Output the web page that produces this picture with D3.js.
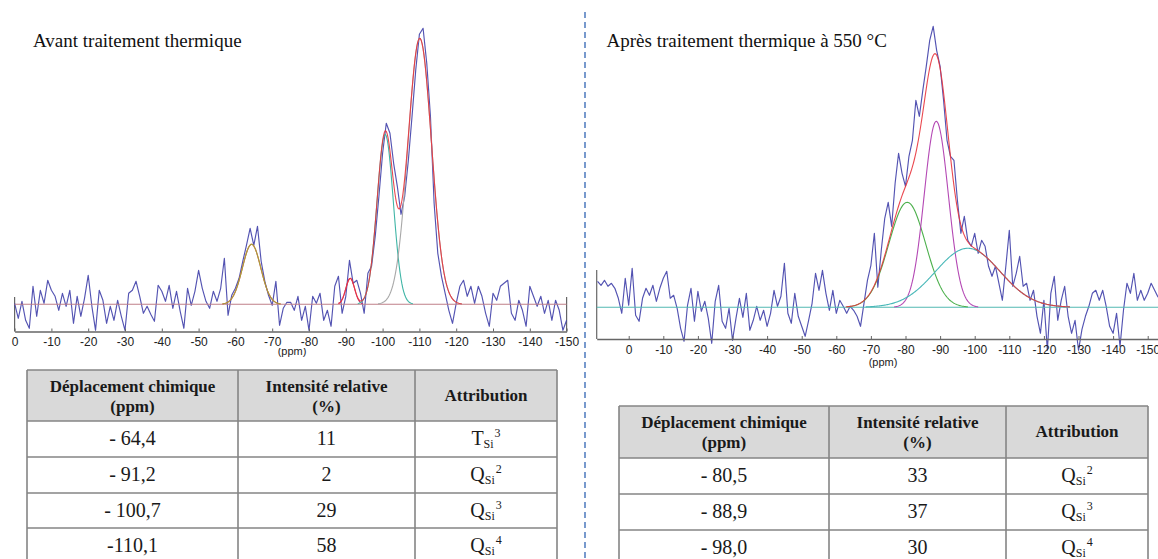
<!DOCTYPE html>
<html>
<head>
<meta charset="utf-8">
<script src="https://cdn.jsdelivr.net/npm/d3@7/dist/d3.min.js"></script>
<style>
  body { margin: 0; background: #fff; }
  svg { display: block; }
</style>
</head>
<body>
<svg id="fig" width="1158" height="559"></svg>
<script>
// ---- 29Si MAS NMR spectra: sample grid (ppm) and measured intensity (a.u.) ----
const shiftBefore = d3.range(0, -151, -1);
const intensityBefore = [
  1, -14, 3, -16, -24, 18, -12, 14, 1, 24,
  14, 8, -6, 11, -2, 14, -19, 8, -12, 6,
  29, -2, -26, 14, 4, -19, -2, -16, 4, -12,
  -26, 11, 14, 23, 8, -9, -2, -10, -17, 19,
  13, 3, 19, -4, 13, -7, -24, 16, -1, 13,
  34, 16, 3, -4, 13, 3, 16, 46, -11, 9,
  16, 26, 43, 59, 76, 59, 78, 43, 23, 9,
  -1, 23, -21, -4, 2, 2, -6, 8, -16, -2,
  -26, 8, 1, 11, -16, -6, -22, 18, 28, -9,
  8, 44, 21, 24, 11, -9, 31, 38, 68, 108,
  151, 181, 171, 141, 118, 90, 108, 144, 188, 234,
  270, 276, 241, 188, 101, 51, 28, 11, -6, -19,
  1, 18, 24, 8, 18, 1, 18, 8, -9, -22,
  11, 4, 18, 21, 24, -9, -16, 4, -6, -22,
  18, 8, -2, 8, -9, 4, -16, 4, -6, -26,
  -16
];

const shiftAfter = d3.range(9, -154, -1);
const intensityAfter = [
  26, 22, 27, 21, 24, 19, 9, -6, 29,
  2, 39, -8, -14, 9, 19, 12, 22, 6, 19,
  29, 36, 9, 12, -1, -21, -34, 2, 19, -14,
  16, -4, 6, -11, -36, 6, 22, -14, -21, -1,
  -33, -11, 9, -10, 14, -23, -13, 1, -13, -3,
  -19, -6, 17, 1, 11, 44, -6, -16, 14, -9,
  -19, -29, -13, 4, 34, 17, 37, 14, -3, 17,
  -6, 7, 1, -6, 1, -3, -9, -19, 4, 27,
  42, 74, 20, 57, 89, 105, 81, 124, 154, 134,
  121, 151, 167, 207, 191, 217, 241, 267, 281, 257,
  241, 207, 167, 151, 147, 107, 74, 91, 67, 61,
  74, 54, 67, 61, 41, 31, 41, 24, 7, 41,
  77, 21, 34, 51, 21, 24, 7, 17, -9, -26,
  7, -43, 14, 31, -13, 7, 21, -9, -26, -13,
  -43, -22, -9, 1, 14, 17, 7, 17, 1, -19,
  -26, -6, -39, -3, 24, 14, 34, 7, 17, 7,
  14, 24, 17, 10
];

// ---- Deconvolution results ----
const shiftLabelsBefore = ["- 64,4", "- 91,2", "- 100,7", "-110,1"];
const relIntBefore = [11, 2, 29, 58];
const speciesBefore = ["T", "Q", "Q", "Q"];
const nBefore = [3, 2, 3, 4];
const heightBefore = [60, 26, 170, 266];
const fwhmBefore = [5.9, 2.8, 5.2, 7.5];
const colorsBefore = ["#a3a23a", "#d0306e", "#3fb5a6", "#a8a8a8"];

const shiftLabelsAfter = ["- 80,5", "- 88,9", "- 98,0"];
const relIntAfter = [33, 37, 30];
const speciesAfter = ["Q", "Q", "Q"];
const nAfter = [2, 3, 4];
const heightAfter = [105, 186, 59];
const fwhmAfter = [12.5, 8.2, 22];
const colorsAfter = ["#4cb04c", "#b448b4", "#48b8b8"];

const tickValues = d3.range(0, -151, -10);

const svg = d3.select("#fig");
const parseShift = s => +s.replace(/\s/g, "").replace(",", ".");

function gauss(x, c, h, fwhm) {
  const s = fwhm / 2.3548;
  return h * Math.exp(-((x - c) * (x - c)) / (2 * s * s));
}

function spectrum(cfg) {
  const g = svg.append("g");
  const x = d3.scaleLinear().domain(cfg.xDomain).range(cfg.xRange);
  const y = d3.scaleLinear().domain([0, 100]).range([cfg.y0, cfg.y0 - 100]);

  // frame pieces
  g.append("line")
    .attr("x1", x(cfg.xDomain[0])).attr("x2", x(cfg.xDomain[0]))
    .attr("y1", cfg.frameTop).attr("y2", cfg.axisY)
    .attr("stroke", "#666").attr("stroke-width", 1.2);
  if (cfg.rightFrame) {
    g.append("line")
      .attr("x1", x(cfg.xDomain[1])).attr("x2", x(cfg.xDomain[1]))
      .attr("y1", cfg.frameTop).attr("y2", cfg.axisY)
      .attr("stroke", "#666").attr("stroke-width", 1.2);
  }

  // experimental trace
  const pts = cfg.shift.map((d, i) => [d, cfg.intensity[i]]);
  g.append("path")
    .attr("d", d3.line().x(d => x(d[0])).y(d => y(d[1]))(pts))
    .attr("fill", "none").attr("stroke", "#4040aa").attr("stroke-width", 1.15)
    .attr("stroke-opacity", 0.9).attr("stroke-linejoin", "round");

  // baseline
  g.append("line")
    .attr("x1", x(cfg.xDomain[0])).attr("x2", x(cfg.xDomain[1]))
    .attr("y1", y(0)).attr("y2", y(0))
    .attr("stroke", cfg.baseColor).attr("stroke-width", 1.1);

  // fitted Gaussian components and their sum
  const centers = cfg.labels.map(parseShift);
  const fine = d3.range(cfg.xDomain[0], cfg.xDomain[1] - 0.01, -0.25);
  const comp = centers.map((c, k) =>
    fine.map(p => [p, gauss(p, c, cfg.heights[k], cfg.fwhm[k])]));
  const total = fine.map((p, i) => [p, d3.sum(comp, cc => cc[i][1])]);
  const line = d3.line().defined(d => d[1] > 0.4).x(d => x(d[0])).y(d => y(d[1]));

  const drawComp = k => g.append("path").attr("d", line(comp[k]))
    .attr("fill", "none").attr("stroke", cfg.colors[k]).attr("stroke-width", 1.1);
  comp.forEach((cc, k) => { if (!cfg.onTop.includes(k)) drawComp(k); });
  g.append("path").attr("d", line(total))
    .attr("fill", "none").attr("stroke", "#e8343c").attr("stroke-width", 1.1)
    .attr("stroke-opacity", 0.9);
  cfg.onTop.forEach(drawComp);

  // shift axis
  const axis = d3.axisBottom(x)
    .tickValues(tickValues)
    .tickFormat(d => d === 0 ? "0" : "-" + Math.abs(d))
    .tickSizeInner(-3).tickSizeOuter(0).tickPadding(6);
  const ag = g.append("g").attr("transform", `translate(0,${cfg.axisY})`).call(axis);
  ag.select(".domain").attr("stroke", "#666").attr("stroke-width", 1.3);
  ag.selectAll(".tick line").attr("stroke", "#666");
  ag.selectAll("text")
    .attr("font-family", "Liberation Sans, Arial, sans-serif")
    .attr("font-size", 12).attr("fill", "#222");

  // unit label, partly tucked under the tick labels
  const cid = "clip" + cfg.id;
  svg.append("clipPath").attr("id", cid).append("rect")
    .attr("x", cfg.unitX - 30).attr("y", cfg.unitClip).attr("width", 60).attr("height", 20);
  g.append("text")
    .attr("clip-path", `url(#${cid})`)
    .attr("x", cfg.unitX).attr("y", cfg.unitY)
    .attr("text-anchor", "middle")
    .attr("font-family", "Liberation Sans, Arial, sans-serif")
    .attr("font-size", 11).attr("fill", "#222")
    .text("(ppm)");

  // panel title
  g.append("text")
    .attr("x", cfg.titleX).attr("y", 47)
    .attr("font-family", "Liberation Serif, Times New Roman, serif")
    .attr("font-size", 19).attr("fill", "#111")
    .text(cfg.title);
}

spectrum({
  id: "A", title: "Avant traitement thermique", titleX: 33,
  shift: shiftBefore, intensity: intensityBefore,
  labels: shiftLabelsBefore, heights: heightBefore, fwhm: fwhmBefore, colors: colorsBefore,
  onTop: [0],
  xDomain: [0, -150], xRange: [14.6, 566.6],
  y0: 304.3, axisY: 331.5, frameTop: 297, rightFrame: true,
  baseColor: "#bf7f88",
  unitX: 292, unitY: 355, unitClip: 348
});

spectrum({
  id: "B", title: "Après traitement thermique à 550 °C", titleX: 606.5,
  shift: shiftAfter, intensity: intensityAfter,
  labels: shiftLabelsAfter, heights: heightAfter, fwhm: fwhmAfter, colors: colorsAfter,
  onTop: [],
  xDomain: [9.25, -153], xRange: [596.7, 596.7 + 162.25 * 3.46],
  y0: 307.3, axisY: 339, frameTop: 270, rightFrame: false,
  baseColor: "#52b8b2",
  unitX: 883, unitY: 366, unitClip: 358
});

// dashed separator between the two panels
svg.append("line")
  .attr("x1", 585).attr("x2", 585).attr("y1", 12).attr("y2", 559)
  .attr("stroke", "#3f6fb8").attr("stroke-width", 1.4)
  .attr("stroke-dasharray", "6,4");

// ---- result tables ----
function table(cfg) {
  const g = svg.append("g");
  const cols = cfg.cols, rows = cfg.rows;
  const serif = "Liberation Serif, Times New Roman, serif";
  g.append("rect")
    .attr("x", cols[0]).attr("y", rows[0])
    .attr("width", cols[cols.length - 1] - cols[0]).attr("height", rows[1] - rows[0])
    .attr("fill", "#d9d9d9");
  // grid lines
  rows.forEach(r => g.append("line")
    .attr("x1", cols[0]).attr("x2", cols[cols.length - 1]).attr("y1", r).attr("y2", r)
    .attr("stroke", "#858585").attr("stroke-width", 1.6));
  cols.forEach(c => g.append("line")
    .attr("x1", c).attr("x2", c).attr("y1", rows[0]).attr("y2", 562)
    .attr("stroke", "#858585").attr("stroke-width", 1.6));

  const cx = d3.range(3).map(i => (cols[i] + cols[i + 1]) / 2);
  const hMid = (rows[0] + rows[1]) / 2;
  const head = [["Déplacement chimique", "(ppm)"], ["Intensité relative", "(%)"], ["Attribution"]];
  head.forEach((lines, i) => {
    lines.forEach((t, j) => {
      const yy = lines.length === 1 ? hMid + 5 : hMid - 4 + j * 20;
      g.append("text").attr("x", cx[i]).attr("y", yy)
        .attr("text-anchor", "middle")
        .attr("font-family", serif).attr("font-weight", "bold")
        .attr("font-size", 17).attr("fill", "#1a1a1a").text(t);
    });
  });

  cfg.labels.forEach((lab, r) => {
    const top = rows[r + 1];
    const yy = top + 24;
    g.append("text").attr("x", cx[0]).attr("y", yy).attr("text-anchor", "middle")
      .attr("font-family", serif).attr("font-size", 20).attr("fill", "#1a1a1a").text(lab);
    g.append("text").attr("x", cx[1]).attr("y", yy).attr("text-anchor", "middle")
      .attr("font-family", serif).attr("font-size", 20).attr("fill", "#1a1a1a").text(cfg.rel[r]);
    const t = g.append("text").attr("x", cx[2]).attr("y", yy).attr("text-anchor", "middle")
      .attr("font-family", serif).attr("font-size", 20).attr("fill", "#1a1a1a");
    t.append("tspan").text(cfg.species[r]);
    t.append("tspan").attr("font-size", 12).attr("dy", 3).text("Si");
    t.append("tspan").attr("font-size", 12).attr("dy", -11).attr("dx", 1).text(cfg.n[r]);
  });
}

table({
  cols: [27, 238, 415, 557], rows: [370, 421, 457, 493, 528],
  labels: shiftLabelsBefore, rel: relIntBefore, species: speciesBefore, n: nBefore
});
table({
  cols: [619, 829, 1006, 1148], rows: [406, 458, 494, 530],
  labels: shiftLabelsAfter, rel: relIntAfter, species: speciesAfter, n: nAfter
});
</script>
</body>
</html>
